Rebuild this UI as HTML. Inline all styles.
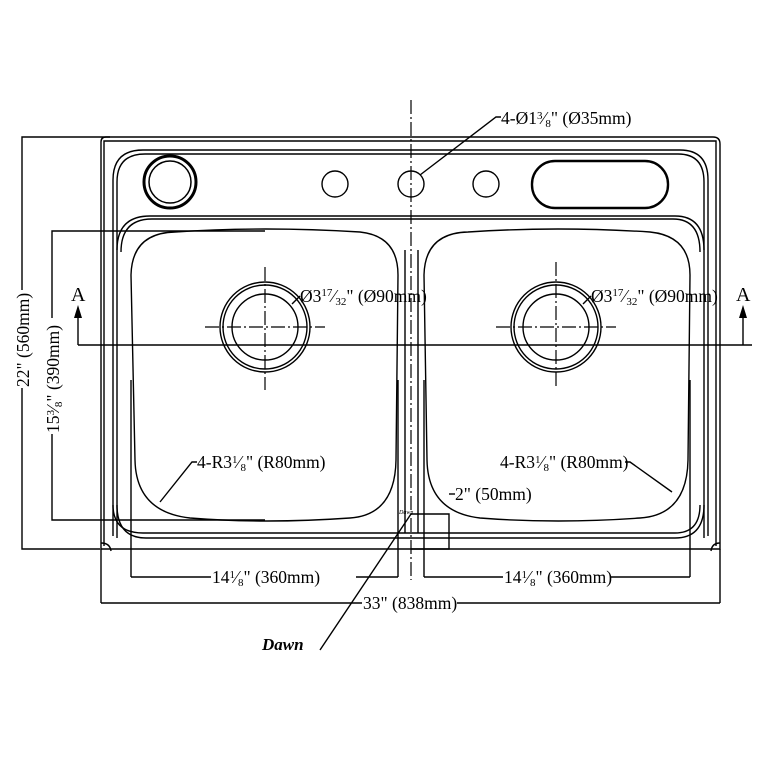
<!DOCTYPE html>
<html><head><meta charset="utf-8"><style>
html,body{margin:0;padding:0;background:#fff;}
svg{display:block;}
text{font-family:"Liberation Serif",serif;fill:#000;}
</style></head><body>
<svg width="768" height="768" viewBox="0 0 768 768" xmlns="http://www.w3.org/2000/svg">
<g fill="none" stroke="#000" stroke-width="1.4">
<path d="M101,549 L101,142 Q101,137 106,137 L713,137 Q720,137 720,144 L720,549 Z"/>
<path d="M104,546 L104,141 L716,141 L716,546"/>
<path d="M101,543 Q110,543 111,551" />
<path d="M720,543 Q712,543 711,551" />
<path d="M113,536 L113,180 Q113,150 143,150 L680,150 Q708,150 708,180 L708,536"/>
<path d="M117,538 L117,182 Q117,154 145,154 L678,154 Q704,154 704,182 L704,538"/>
<path d="M117,250 Q117,216 150,216 L675,216 Q704,216 704,250"/>
<path d="M121,252 Q121,219 152,219 L673,219 Q700,219 700,252"/>
<path d="M113,505 Q113,533 143,533 L675,533 Q700,533 700,505"/>
<path d="M117,505 Q117,538 146,538 L675,538 Q704,538 704,505"/>
<path d="M131,275 Q132,233 175,232 Q264,226 360,232 Q398,236 398,275 L396,460 Q395,515 350,518 Q265,524 190,518 Q136,512 135,460 Z"/>
<line x1="131" y1="380" x2="131" y2="577"/>
<line x1="398" y1="380" x2="398" y2="577"/>
<path d="M424,275 Q425,233 468,232 Q557,226 650,232 Q690,236 690,275 L688,460 Q687,515 640,518 Q557,524 480,518 Q428,512 427,460 Z"/>
<line x1="424" y1="380" x2="424" y2="577"/>
<line x1="690" y1="380" x2="690" y2="577"/>
<line x1="405" y1="250" x2="405" y2="533"/>
<line x1="418" y1="250" x2="418" y2="533"/>
<circle cx="265" cy="327" r="45"/><circle cx="265" cy="327" r="42"/><circle cx="265" cy="327" r="33"/>
<circle cx="556" cy="327" r="45"/><circle cx="556" cy="327" r="42"/><circle cx="556" cy="327" r="33"/>
<g stroke-dasharray="14,3,2,3" stroke-width="1.2">
<line x1="205" y1="327" x2="325" y2="327"/><line x1="265" y1="267" x2="265" y2="390"/>
<line x1="496" y1="327" x2="616" y2="327"/><line x1="556" y1="262" x2="556" y2="388"/>
<line x1="411" y1="100" x2="411" y2="580"/>
</g>
<circle cx="170" cy="182" r="26" stroke-width="3"/><circle cx="170" cy="182" r="21" stroke-width="1.5"/>
<circle cx="335" cy="184" r="13"/>
<circle cx="411" cy="184" r="13"/>
<circle cx="486" cy="184" r="13"/>
<rect x="532" y="161" width="136" height="47" rx="23" stroke-width="2.4"/>
<line x1="78" y1="345" x2="752" y2="345" stroke-width="1.6"/>
<line x1="78" y1="345" x2="78" y2="310"/>
<line x1="743" y1="345" x2="743" y2="310"/>
<polyline points="420,175 496,117 501,117"/>
<line x1="292" y1="304" x2="300" y2="296"/>
<line x1="583" y1="304" x2="591" y2="296"/>
<polyline points="160,502 192,462 197,462"/>
<polyline points="672,492 630,462 625,462"/>
<polyline points="411,514 449,514 449,549 411,549"/>
<line x1="449" y1="494" x2="455" y2="494"/>
<polyline points="320,650 411,514"/>
<polyline points="110,137 22,137 22,549 100,549"/>
<polyline points="265,231 52,231 52,520 265,520"/>
<line x1="131" y1="577" x2="398" y2="577"/>
<line x1="424" y1="577" x2="690" y2="577"/>
<line x1="101" y1="549" x2="101" y2="603"/>
<line x1="720" y1="549" x2="720" y2="603"/>
<line x1="101" y1="603" x2="720" y2="603"/>
</g>
<polygon points="78,305 74,318 82,318" fill="#000"/>
<polygon points="743,305 739,318 747,318" fill="#000"/>
<text x="71" y="301" font-size="20">A</text>
<text x="736" y="301" font-size="20">A</text>
<g font-size="17.5">
<text x="501" y="124">4-Ø1<tspan font-size="11" dy="-5">3</tspan><tspan dy="5">⁄</tspan><tspan font-size="11" dy="3">8</tspan><tspan dy="-3">" (Ø35mm)</tspan></text>
<text x="300" y="302">Ø3<tspan font-size="11" dy="-6">17</tspan><tspan dy="6">⁄</tspan><tspan font-size="11" dy="3">32</tspan><tspan dy="-3">" (Ø90mm)</tspan></text>
<text x="591" y="302">Ø3<tspan font-size="11" dy="-6">17</tspan><tspan dy="6">⁄</tspan><tspan font-size="11" dy="3">32</tspan><tspan dy="-3">" (Ø90mm)</tspan></text>
<text x="197" y="468">4-R3<tspan font-size="11" dy="-5">1</tspan><tspan dy="5">⁄</tspan><tspan font-size="11" dy="3">8</tspan><tspan dy="-3">" (R80mm)</tspan></text>
<text x="500" y="468">4-R3<tspan font-size="11" dy="-5">1</tspan><tspan dy="5">⁄</tspan><tspan font-size="11" dy="3">8</tspan><tspan dy="-3">" (R80mm)</tspan></text>
<text x="455" y="500">2" (50mm)</text>
<rect x="211" y="567" width="145" height="18" fill="#fff"/>
<text x="212" y="583">14<tspan font-size="11" dy="-5">1</tspan><tspan dy="5">⁄</tspan><tspan font-size="11" dy="3">8</tspan><tspan dy="-3">" (360mm)</tspan></text>
<rect x="503" y="567" width="108" height="18" fill="#fff"/>
<text x="504" y="583">14<tspan font-size="11" dy="-5">1</tspan><tspan dy="5">⁄</tspan><tspan font-size="11" dy="3">8</tspan><tspan dy="-3">" (360mm)</tspan></text>
<rect x="362" y="593" width="95" height="18" fill="#fff"/>
<text x="363" y="609">33" (838mm)</text>
<rect x="13" y="290" width="18" height="98" fill="#fff"/>
<text transform="translate(29,387) rotate(-90)">22" (560mm)</text>
<rect x="43" y="318" width="18" height="116" fill="#fff"/>
<text transform="translate(59,433) rotate(-90)">15<tspan font-size="11" dy="-5">3</tspan><tspan dy="5">⁄</tspan><tspan font-size="11" dy="3">8</tspan><tspan dy="-3">" (390mm)</tspan></text>
</g>
<text x="262" y="650" font-size="17" font-style="italic" font-weight="bold">Dawn</text>
<text x="399" y="514" font-size="6" font-style="italic">Dawn</text>
</svg>
</body></html>
